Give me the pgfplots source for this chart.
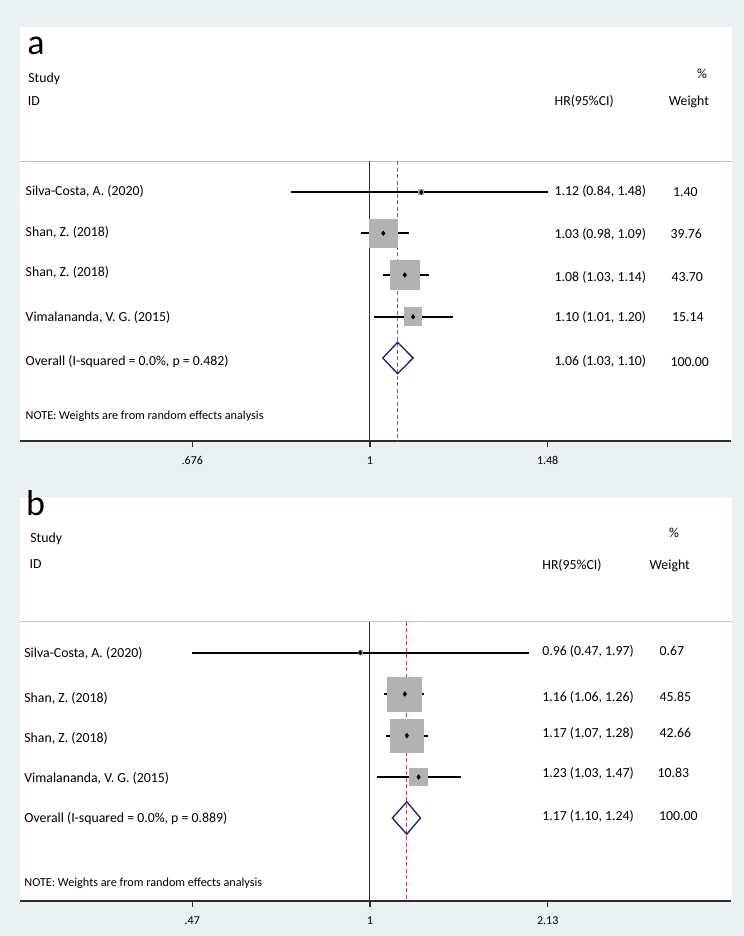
\documentclass[border=0pt]{standalone}
\usepackage{fontspec}
\setmainfont{Carlito}
\usepackage{pgfplots}
\pgfplotsset{compat=1.18}
\definecolor{bgcol}{RGB}{233,241,243}
\definecolor{boxgray}{RGB}{178,178,178}
\definecolor{navyd}{RGB}{28,28,110}
\definecolor{dashred}{RGB}{190,70,90}
\definecolor{refline}{RGB}{45,45,45}
\definecolor{sepgray}{RGB}{195,195,195}
\newcommand\T{\fontsize{13.8bp}{16.5bp}\selectfont}
\newcommand\N{\fontsize{12.2bp}{14.5bp}\selectfont}
\newcommand\B{\fontsize{36bp}{40bp}\selectfont}
\begin{document}
\begin{tikzpicture}[x=1bp,y=1bp]
\path[use as bounding box, fill=bgcol] (0,0) rectangle (744,-936);
\fill[white] (20,-27) rectangle (732,-441);
\fill[white] (20,-497.5) rectangle (731.7,-901);
\draw[sepgray, line width=1bp] (20,-161.3) -- (732,-161.3);
\draw[sepgray, line width=1bp] (20,-621.7) -- (731.7,-621.7);

% ---------------- panel a ----------------
\begin{axis}[xmode=log, scale only axis, width=711bp, height=414bp,
  at={(20bp,-441bp)}, anchor=south west,
  axis lines*=left, y axis line style={draw=none}, ytick=\empty, ymajorticks=false,
  clip=false,
  xtick pos=bottom, tick align=outside, major tick length=6bp,
  tick style={refline, line width=1.3bp},
  x axis line style={refline, line width=1.2bp},
  xticklabel style={font=\fontsize{12bp}{14bp}\selectfont, text=black, yshift=-6bp},
  xmin=0.4623, xmax=2.2174, ymin=-441, ymax=-27,
  xtick={0.676,1,1.48}, xticklabels={\textnormal{.676},\textnormal{1},\textnormal{1.48}}]
\addplot[refline, line width=1.1bp] coordinates {(1,-161.3) (1,-441)};
\addplot[dashred, line width=1.3bp, dash pattern=on 4bp off 2.5bp] coordinates {(1.063,-161.3) (1.063,-441)};
% boxes (area ~ weight)
\addplot[boxgray, only marks, mark=square*, mark size=2.6bp, mark options={fill=boxgray, draw=boxgray, line width=0pt}] coordinates {(1.12,-192.3)};
\addplot[boxgray, only marks, mark=square*, mark size=13.8bp, mark options={fill=boxgray, draw=boxgray, line width=0pt}] coordinates {(1.03,-233.3)};
\addplot[boxgray, only marks, mark=square*, mark size=14.5bp, mark options={fill=boxgray, draw=boxgray, line width=0pt}] coordinates {(1.08,-275)};
\addplot[boxgray, only marks, mark=square*, mark size=8.8bp, mark options={fill=boxgray, draw=boxgray, line width=0pt}] coordinates {(1.10,-316.7)};
% CIs
\addplot[black, line width=1.8bp] coordinates {(0.84,-192.3) (1.48,-192.3)};
\addplot[black, line width=1.8bp] coordinates {(0.98,-233.3) (1.09,-233.3)};
\addplot[black, line width=1.8bp] coordinates {(1.03,-275) (1.14,-275)};
\addplot[black, line width=1.8bp] coordinates {(1.01,-316.7) (1.20,-316.7)};
% point estimates
\addplot[black, only marks, mark=diamond*, mark size=2.4bp, mark options={fill=black, draw=black}] coordinates {(1.12,-192.3) (1.03,-233.3) (1.08,-275) (1.10,-316.7)};
% overall
\addplot[navyd, line width=1.3bp, line join=miter] coordinates {(1.029,-358) (1.063,-342.3) (1.100,-358) (1.063,-373.7) (1.029,-358) (1.063,-342.3)};
\end{axis}

\node[anchor=base west, inner sep=0, font=\B] at (27.2,-54) {a};
\node[anchor=base west, inner sep=0, font=\T] at (28.2,-82.7) {Study};
\node[anchor=base west, inner sep=0, font=\T] at (27.7,-105) {ID};
\node[anchor=base east, inner sep=0, font=\T] at (707.2,-78.3) {\%};
\node[anchor=base west, inner sep=0, font=\T] at (554.5,-105.5) {HR(95\%CI)};
\node[anchor=base west, inner sep=0, font=\T] at (668.7,-105) {Weight};

\node[anchor=base west, inner sep=0, font=\T] at (25.5,-195) {Silva-Costa, A. (2020)};
\node[anchor=base west, inner sep=0, font=\T] at (25.5,-236.7) {Shan, Z. (2018)};
\node[anchor=base west, inner sep=0, font=\T] at (25.5,-276) {Shan, Z. (2018)};
\node[anchor=base west, inner sep=0, font=\T] at (25.5,-321) {Vimalananda, V. G. (2015)};
\node[anchor=base west, inner sep=0, font=\T] at (25.5,-365) {Overall (I-squared = 0.0\%, p = 0.482)};
\node[anchor=base west, inner sep=0, font=\N] at (25.5,-419.5) {NOTE: Weights are from random effects analysis};

\node[anchor=base west, inner sep=0, font=\T] at (554.5,-195) {1.12 (0.84, 1.48)};
\node[anchor=base west, inner sep=0, font=\T] at (554.5,-238.3) {1.03 (0.98, 1.09)};
\node[anchor=base west, inner sep=0, font=\T] at (554.5,-281.7) {1.08 (1.03, 1.14)};
\node[anchor=base west, inner sep=0, font=\T] at (554.5,-321.7) {1.10 (1.01, 1.20)};
\node[anchor=base west, inner sep=0, font=\T] at (554.5,-365) {1.06 (1.03, 1.10)};

\node[anchor=base west, inner sep=0, font=\T] at (673,-196.7) {1.40};
\node[anchor=base west, inner sep=0, font=\T] at (670.3,-238.3) {39.76};
\node[anchor=base west, inner sep=0, font=\T] at (671.3,-281.7) {43.70};
\node[anchor=base west, inner sep=0, font=\T] at (672,-321.7) {15.14};
\node[anchor=base west, inner sep=0, font=\T] at (670.3,-366.7) {100.00};

% ---------------- panel b ----------------
\begin{axis}[xmode=log, scale only axis, width=711bp, height=403.5bp,
  at={(20bp,-901bp)}, anchor=south west,
  axis lines*=left, y axis line style={draw=none}, ytick=\empty, ymajorticks=false,
  clip=false,
  xtick pos=bottom, tick align=outside, major tick length=6bp,
  tick style={refline, line width=1.3bp},
  x axis line style={refline, line width=1.2bp},
  xticklabel style={font=\fontsize{12bp}{14bp}\selectfont, text=black, yshift=-6bp},
  xmin=0.2259, xmax=4.643, ymin=-901, ymax=-497.5,
  xtick={0.47,1,2.13}, xticklabels={\textnormal{.47},\textnormal{1},\textnormal{2.13}}]
\addplot[refline, line width=1.1bp] coordinates {(1,-621.7) (1,-901)};
\addplot[dashred, line width=1.3bp, dash pattern=on 4bp off 2.5bp] coordinates {(1.17,-621.7) (1.17,-901)};
\addplot[boxgray, only marks, mark=square*, mark size=2.1bp, mark options={fill=boxgray, draw=boxgray, line width=0pt}] coordinates {(0.96,-652.7)};
\addplot[boxgray, only marks, mark=square*, mark size=17bp, mark options={fill=boxgray, draw=boxgray, line width=0pt}] coordinates {(1.16,-694)};
\addplot[boxgray, only marks, mark=square*, mark size=16.5bp, mark options={fill=boxgray, draw=boxgray, line width=0pt}] coordinates {(1.17,-735.6)};
\addplot[boxgray, only marks, mark=square*, mark size=8.8bp, mark options={fill=boxgray, draw=boxgray, line width=0pt}] coordinates {(1.23,-777)};
\addplot[black, line width=1.8bp] coordinates {(0.47,-652.7) (1.97,-652.7)};
\addplot[black, line width=1.8bp] coordinates {(1.06,-694) (1.26,-694)};
\addplot[black, line width=1.8bp] coordinates {(1.07,-735.6) (1.28,-735.6)};
\addplot[black, line width=1.8bp] coordinates {(1.03,-777) (1.47,-777)};
\addplot[black, only marks, mark=diamond*, mark size=2.4bp, mark options={fill=black, draw=black}] coordinates {(0.96,-652.7) (1.16,-694) (1.17,-735.6) (1.23,-777)};
\addplot[navyd, line width=1.3bp, line join=miter] coordinates {(1.10,-818) (1.17,-801.8) (1.24,-818) (1.17,-834.2) (1.10,-818) (1.17,-801.8)};
\end{axis}

\node[anchor=base west, inner sep=0, font=\B] at (26,-515) {b};
\node[anchor=base west, inner sep=0, font=\T] at (30.2,-542.7) {Study};
\node[anchor=base west, inner sep=0, font=\T] at (29.5,-568.3) {ID};
\node[anchor=base east, inner sep=0, font=\T] at (679.2,-537.3) {\%};
\node[anchor=base west, inner sep=0, font=\T] at (542.2,-569.5) {HR(95\%CI)};
\node[anchor=base west, inner sep=0, font=\T] at (649.5,-569.3) {Weight};

\node[anchor=base west, inner sep=0, font=\T] at (24.2,-657) {Silva-Costa, A. (2020)};
\node[anchor=base west, inner sep=0, font=\T] at (24.2,-702) {Shan, Z. (2018)};
\node[anchor=base west, inner sep=0, font=\T] at (24.2,-742) {Shan, Z. (2018)};
\node[anchor=base west, inner sep=0, font=\T] at (24.2,-782) {Vimalananda, V. G. (2015)};
\node[anchor=base west, inner sep=0, font=\T] at (24.2,-822.5) {Overall (I-squared = 0.0\%, p = 0.889)};
\node[anchor=base west, inner sep=0, font=\N] at (24.2,-886) {NOTE: Weights are from random effects analysis};

\node[anchor=base west, inner sep=0, font=\T] at (542.2,-655.5) {0.96 (0.47, 1.97)};
\node[anchor=base west, inner sep=0, font=\T] at (542.2,-701) {1.16 (1.06, 1.26)};
\node[anchor=base west, inner sep=0, font=\T] at (542.2,-737.7) {1.17 (1.07, 1.28)};
\node[anchor=base west, inner sep=0, font=\T] at (542.2,-777.7) {1.23 (1.03, 1.47)};
\node[anchor=base west, inner sep=0, font=\T] at (542.2,-820) {1.17 (1.10, 1.24)};

\node[anchor=base west, inner sep=0, font=\T] at (659.5,-655.5) {0.67};
\node[anchor=base west, inner sep=0, font=\T] at (659.5,-701) {45.85};
\node[anchor=base west, inner sep=0, font=\T] at (659.5,-737.7) {42.66};
\node[anchor=base west, inner sep=0, font=\T] at (657.5,-777.7) {10.83};
\node[anchor=base west, inner sep=0, font=\T] at (659,-820) {100.00};
\end{tikzpicture}
\end{document}
